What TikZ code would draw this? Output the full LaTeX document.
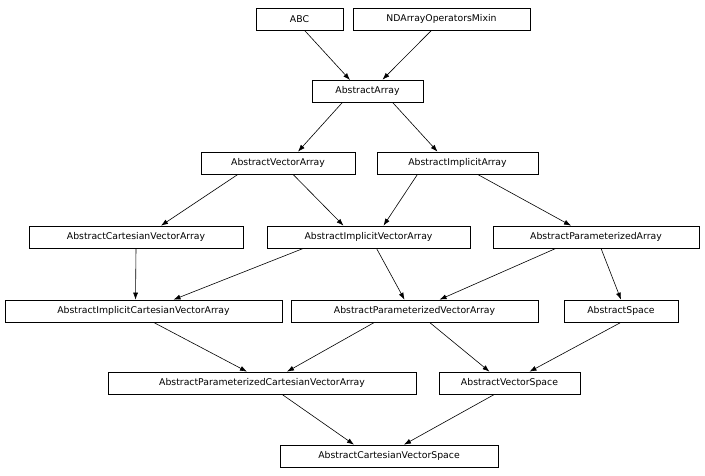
\documentclass[tikz,border=0pt]{standalone}
\usepackage{fontspec}
\setmainfont{DejaVu Sans}
\usetikzlibrary{arrows.meta}
\begin{document}
\begin{tikzpicture}[x=1pt,y=-1pt,
  cls/.style={draw,line width=0.7pt,minimum height=22pt,inner sep=0pt,font=\fontsize{9.3}{11}\selectfont},
  edge/.style={line width=0.6pt,-{Latex[length=7pt,width=5pt]}}]
\useasboundingbox (0,0) rectangle (705,476);
\node[cls,minimum width=87pt] (abc) at (299.5,19) {ABC};
\node[cls,minimum width=177pt] (nda) at (441.5,19) {NDArrayOperatorsMixin};
\node[cls,minimum width=111pt] (aa) at (367.5,91) {AbstractArray};
\node[cls,minimum width=154pt] (ava) at (278,163) {AbstractVectorArray};
\node[cls,minimum width=161pt] (aia) at (457.5,163) {AbstractImplicitArray};
\node[cls,minimum width=214pt] (acva) at (136,237) {AbstractCartesianVectorArray};
\node[cls,minimum width=203pt] (aiva) at (368.5,237) {AbstractImplicitVectorArray};
\node[cls,minimum width=206pt] (apa) at (596,237) {AbstractParameterizedArray};
\node[cls,minimum width=277pt] (aicva) at (143.5,311) {AbstractImplicitCartesianVectorArray};
\node[cls,minimum width=247pt] (apva) at (414.5,311) {AbstractParameterizedVectorArray};
\node[cls,minimum width=114pt] (as) at (621,311) {AbstractSpace};
\node[cls,minimum width=308pt] (apcva) at (262,383) {AbstractParameterizedCartesianVectorArray};
\node[cls,minimum width=141pt] (avs) at (509.5,383) {AbstractVectorSpace};
\node[cls,minimum width=218pt] (acvs) at (389,456) {AbstractCartesianVectorSpace};
\draw[edge] (abc.south) ++(5,0) coordinate (e1) (e1) -- (350,80) coordinate (t1);
\draw[edge] ([xshift=-10pt]nda.south) -- ([xshift=15pt]aa.north);
\draw[edge] ([xshift=-25pt]aa.south) -- ([xshift=20pt]ava.north);
\draw[edge] ([xshift=25pt]aa.south) -- ([xshift=-20pt]aia.north);
\draw[edge] ([xshift=-40pt]ava.south) -- ([xshift=25pt]acva.north);
\draw[edge] ([xshift=15pt]ava.south) -- ([xshift=-25pt]aiva.north);
\draw[edge] ([xshift=-40pt]aia.south) -- ([xshift=15pt]aiva.north);
\draw[edge] ([xshift=20pt]aia.south) -- ([xshift=-25pt]apa.north);
\draw[edge] ([xshift=0pt]acva.south) -- ([xshift=-8pt]aicva.north);
\draw[edge] ([xshift=-65pt]aiva.south) -- ([xshift=30pt]aicva.north);
\draw[edge] ([xshift=8pt]aiva.south) -- ([xshift=-10pt]apva.north);
\draw[edge] ([xshift=-40pt]apa.south) -- ([xshift=25pt]apva.north);
\draw[edge] ([xshift=5pt]apa.south) -- ([xshift=0pt]as.north);
\draw[edge] ([xshift=10pt]aicva.south) -- ([xshift=-15pt]apcva.north);
\draw[edge] ([xshift=-40pt]apva.south) -- ([xshift=25pt]apcva.north);
\draw[edge] ([xshift=15pt]apva.south) -- ([xshift=-20pt]avs.north);
\draw[edge] ([xshift=0pt]as.south) -- ([xshift=20pt]avs.north);
\draw[edge] ([xshift=20pt]apcva.south) -- ([xshift=-35pt]acvs.north);
\draw[edge] ([xshift=-15pt]avs.south) -- ([xshift=15pt]acvs.north);
\end{tikzpicture}
\end{document}
